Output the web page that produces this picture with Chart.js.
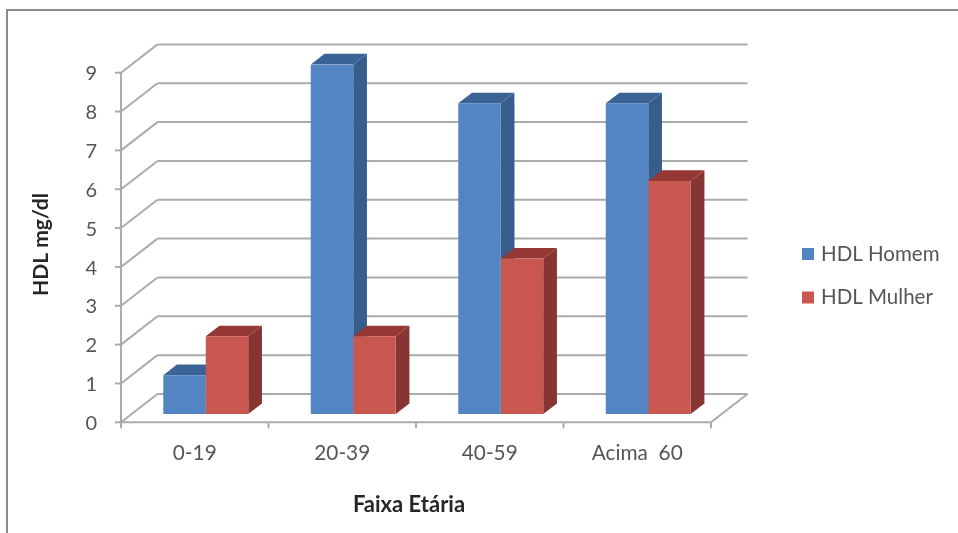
<!DOCTYPE html>
<html>
<head>
<meta charset="utf-8">
<title>HDL por faixa etária</title>
<script src="https://cdn.jsdelivr.net/npm/chart.js@4/dist/chart.umd.min.js"></script>
<style>
    html, body { margin: 0; padding: 0; background: #fff; }
    #wrap { position: relative; width: 958px; height: 533px; overflow: hidden; }
    #frame { position: absolute; left: 6px; top: 9px; width: 960px; height: 540px;
             border-left: 2px solid #8c8c8c; border-top: 2px solid #8c8c8c; }
    canvas { position: absolute; left: 0; top: 0; }
</style>
</head>
<body>
<div id="wrap">
    <div id="frame"></div>
    <canvas id="hdlChart" width="958" height="533"></canvas>
</div>
<script>
const faixas = ['0-19', '20-39', '40-59', 'Acima  60'];
const hdlHomem = [1, 9, 8, 8];
const hdlMulher = [2, 2, 4, 6];
const serieNomes = ['HDL Homem', 'HDL Mulher'];
const yMax = 9;
const yTitulo = 'HDL mg/dl';
const xTitulo = 'Faixa Etária';

const azul = { front: '#5285c1', side: '#385d8a', top: '#3a6496' };
const vermelho = { front: '#c8574f', side: '#873533', top: '#953735' };

const gridColor = '#ababab';
const textColor = '#555555';
const FONT = 'Lato, "Open Sans", sans-serif';

// box offsets from the bar plane: floor front edge, back wall, bar depth
const FRONT = { x: -11, y: 8.3 };
const BACK = { x: 25.5, y: -20 };
const DEPTH = { x: 13.7, y: -10.6 };

function line(ctx, x1, y1, x2, y2) {
    ctx.beginPath();
    ctx.moveTo(x1, y1);
    ctx.lineTo(x2, y2);
    ctx.stroke();
}

function poly(ctx, pts, color) {
    ctx.fillStyle = color;
    ctx.beginPath();
    pts.forEach((p, i) => i ? ctx.lineTo(p[0], p[1]) : ctx.moveTo(p[0], p[1]));
    ctx.closePath();
    ctx.fill();
}

const box3d = {
    id: 'box3d',
    beforeDatasetsDraw(chart) {
        const { ctx, chartArea: a, scales: { x, y } } = chart;
        ctx.save();
        ctx.strokeStyle = gridColor;
        ctx.lineWidth = 2;

        // back wall lines and the diagonals on the left side wall
        y.ticks.forEach(t => {
            const py = y.getPixelForValue(t.value);
            line(ctx, a.left + BACK.x, py + BACK.y, a.right + BACK.x, py + BACK.y);
            line(ctx, a.left + FRONT.x, py + FRONT.y, a.left + BACK.x, py + BACK.y);
            line(ctx, a.left + FRONT.x - 6, py + FRONT.y, a.left + FRONT.x, py + FRONT.y);
        });

        // front axis lines, floor edge on the right, category ticks
        const y0 = y.getPixelForValue(0);
        const yTop = y.getPixelForValue(yMax);
        line(ctx, a.left + FRONT.x, yTop + FRONT.y, a.left + FRONT.x, y0 + FRONT.y);
        line(ctx, a.left + FRONT.x, y0 + FRONT.y, a.right + FRONT.x, y0 + FRONT.y);
        line(ctx, a.right + FRONT.x, y0 + FRONT.y, a.right + BACK.x, y0 + BACK.y);
        const step = (a.right - a.left) / faixas.length;
        for (let i = 0; i <= faixas.length; i++) {
            const px = a.left + FRONT.x + step * i;
            line(ctx, px, y0 + FRONT.y, px, y0 + FRONT.y + 6);
        }

        // side and top faces, blue first so the red bars sit over it
        [azul, vermelho].forEach((cor, d) => {
            chart.getDatasetMeta(d).data.forEach(bar => {
                const l = bar.x - bar.width / 2;
                const r = bar.x + bar.width / 2;
                const t = bar.y;
                const b = bar.base;
                poly(ctx, [[r, t], [r + DEPTH.x, t + DEPTH.y], [r + DEPTH.x, b + DEPTH.y], [r, b]], cor.side);
                poly(ctx, [[l, t], [l + DEPTH.x, t + DEPTH.y], [r + DEPTH.x, t + DEPTH.y], [r, t]], cor.top);
            });
        });
        ctx.restore();
    },
    afterDraw(chart) {
        const { ctx } = chart;
        ctx.save();
        ctx.fillStyle = '#262626';
        ctx.textAlign = 'center';
        ctx.textBaseline = 'middle';
        ctx.font = 'bold 22px ' + FONT;
        ctx.fillText(xTitulo, 409, 505);
        ctx.font = 'bold 21px ' + FONT;
        ctx.translate(41, 244.5);
        ctx.rotate(-Math.PI / 2);
        ctx.fillText(yTitulo, 0, 0);
        ctx.restore();

        // legend
        ctx.save();
        ctx.font = '20.5px ' + FONT;
        ctx.textBaseline = 'middle';
        ctx.textAlign = 'left';
        chart.data.datasets.forEach((ds, i) => {
            const ly = 254 + i * 43.5;
            ctx.fillStyle = ds.backgroundColor;
            ctx.fillRect(802, ly - 6, 12, 12);
            ctx.fillStyle = textColor;
            ctx.fillText(ds.label, 821, ly);
        });
        ctx.restore();
    }
};

new Chart(document.getElementById('hdlChart'), {
    type: 'bar',
    data: {
        labels: faixas,
        datasets: [
            { label: serieNomes[0], data: hdlHomem, backgroundColor: azul.front },
            { label: serieNomes[1], data: hdlMulher, backgroundColor: vermelho.front }
        ]
    },
    plugins: [box3d],
    options: {
        responsive: false,
        animation: false,
        layout: { padding: { top: 64.4, right: 236, left: 0, bottom: 0 } },
        datasets: { bar: { barPercentage: 1, categoryPercentage: 0.576 } },
        plugins: { legend: { display: false }, tooltip: { enabled: false } },
        scales: {
            x: {
                grid: { display: false, drawTicks: false },
                border: { display: false },
                afterFit: s => { s.height = 119; },
                ticks: {
                    color: textColor,
                    font: { family: FONT, size: 20.8 },
                    padding: 27,
                    labelOffset: -11,
                    maxRotation: 0
                }
            },
            y: {
                min: 0,
                max: yMax,
                grid: { display: false, drawTicks: false },
                border: { display: false },
                afterFit: s => { s.width = 132; },
                ticks: {
                    stepSize: 1,
                    color: textColor,
                    font: { family: FONT, size: 20 },
                    padding: 35,
                    labelOffset: 9.5
                }
            }
        }
    }
});
</script>
</body>
</html>
